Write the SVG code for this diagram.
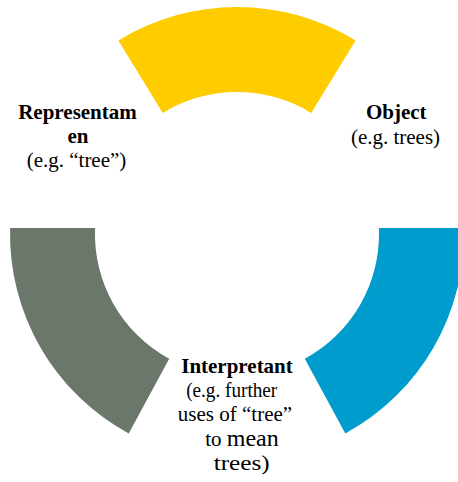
<svg xmlns="http://www.w3.org/2000/svg" width="458" height="482" viewBox="0 0 458 482">
  <style>
    text { font-family: "Liberation Serif", "Times New Roman", serif; font-size: 21px; fill: #000; text-anchor: middle; }
    .b { font-weight: bold; }
  </style>
  <rect width="458" height="482" fill="#fff"/>
  <!-- ring segments, centre (237,234), radii 227 / 142 -->
  <g id="object-segment">
    <path d="M118.4,40.5 A227,227 0 0 1 355.6,40.5 L311.2,112.9 A142,142 0 0 0 162.8,112.9 Z" fill="#FFCC00"/>
  </g>
  <g id="representamen-segment">
    <path d="M10.1,228 A227,227 0 0 0 128.7,433.5 L169.2,358.8 A142,142 0 0 1 95.1,228 Z" fill="#6B776B"/>
  </g>
  <g id="interpretant-segment">
    <path d="M378.9,228 L463.9,228 A227,227 0 0 1 345.3,433.5 L304.8,358.8 A142,142 0 0 0 378.9,228 Z" fill="#009CCD"/>
  </g>
  <g id="connectors"/>
  <g id="representamen">
    <text x="77.5" y="119.3" class="b">Representam</text>
    <text x="78" y="143.3" class="b">en</text>
    <text x="76.5" y="167">(e.g. “tree”)</text>
  </g>
  <g id="object">
    <text x="396.3" y="119.3" class="b">Object</text>
    <text x="395.5" y="144">(e.g. trees)</text>
  </g>
  <g id="interpretant">
    <text x="237" y="373.3" class="b">Interpretant</text>
    <text x="231.7" y="397.3" textLength="91" lengthAdjust="spacingAndGlyphs">(e.g. further</text>
    <text x="235" y="421.3">uses of “tree”</text>
    <text x="242" y="446">to <tspan font-size="24">mean</tspan></text>
    <text x="241.7" y="470" font-size="24" textLength="56" lengthAdjust="spacingAndGlyphs">trees)</text>
  </g>
</svg>
